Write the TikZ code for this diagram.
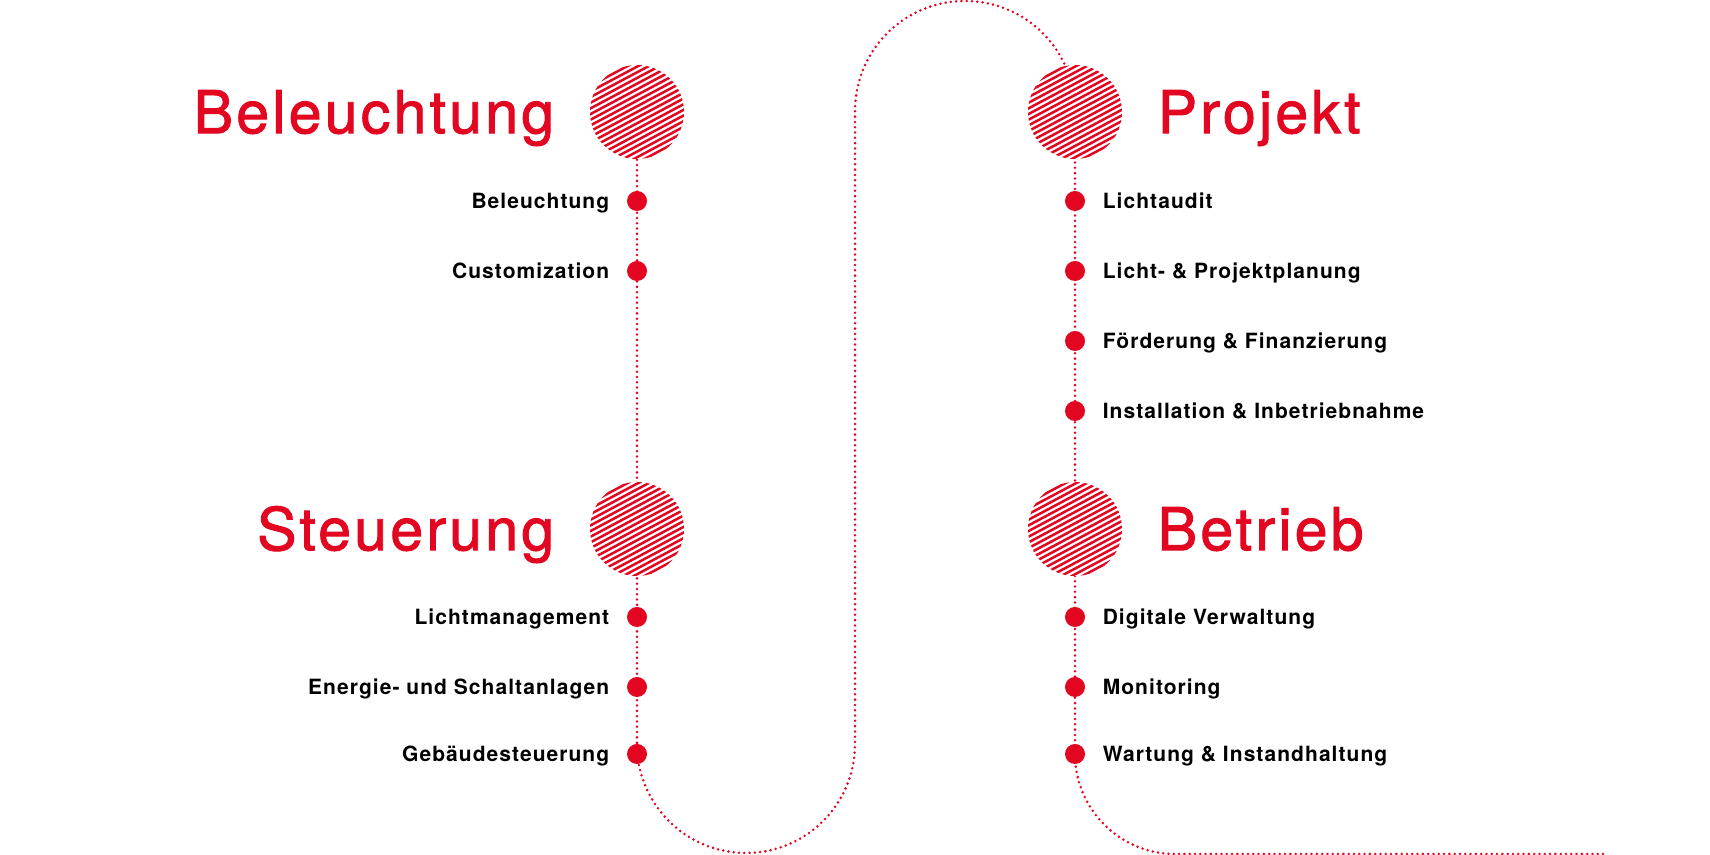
\documentclass[tikz,border=0pt]{standalone}
\usepackage{fontspec}
\setmainfont{TeX Gyre Heros}
\newfontfamily\headfont[LetterSpace=5.5,FakeBold=1.6]{TeX Gyre Heros}
\newfontfamily\itemfont[LetterSpace=5]{TeX Gyre Heros}
\usepackage{tikz}
\usetikzlibrary{positioning,backgrounds}
\definecolor{signal}{RGB}{227,6,33}

\tikzset{
    route/.style={draw=signal, line width=1.4pt, line cap=round, dash pattern=on 0pt off 2.65pt},
    hub/.style={circle, minimum size=47pt, inner sep=0pt, fill=white,
        path picture={
            \foreach \k in {-10,...,10}
                \draw[signal, line width=1.25pt] (path picture bounding box.center)
                    ++(118:{\k*2.5pt}) ++(28:-26pt) -- ++(28:52pt);}},
    stop/.style={circle, fill=signal, minimum size=10pt, inner sep=0pt},
    head/.style={text=signal, font=\headfont\fontsize{29.5}{29.5}\selectfont, inner sep=0pt, text height=21.2pt, text depth=0pt},
    item/.style={font=\itemfont\bfseries\fontsize{10.5}{10.5}\selectfont, inner sep=0pt, text height=7.5pt, text depth=0pt},
}

\begin{document}
\begin{tikzpicture}[x=0.5pt, y=0.5pt]
    \useasboundingbox (0,0) rectangle (1710,855);

    %% left column
    \node[hub] (beleuchtung) at (637,743) {};
    \node[head, left=17.5pt of beleuchtung] (tBeleuchtung) {Beleuchtung};
    \node[stop] (b1) at (637,654) {};
    \node[stop] (b2) at (637,584) {};
    \node[item, left=8.5pt of b1] (lb1) {Beleuchtung};
    \node[item, left=8.5pt of b2] (lb2) {Customization};

    \node[hub] (steuerung) at (637,326) {};
    \node[head, left=17.5pt of steuerung] (tSteuerung) {Steuerung};
    \node[stop] (s1) at (637,238) {};
    \node[stop] (s2) at (637,168) {};
    \node[stop] (s3) at (637,101) {};
    \node[item, left=8.5pt of s1] (ls1) {Lichtmanagement};
    \node[item, left=8.5pt of s2] (ls2) {Energie- und Schaltanlagen};
    \node[item, left=8.5pt of s3] (ls3) {Gebäudesteuerung};

    %% right column
    \node[hub] (projekt) at (1075,743) {};
    \node[head, right=17.5pt of projekt] (tProjekt) {Projekt};
    \node[stop] (p1) at (1075,654) {};
    \node[stop] (p2) at (1075,584) {};
    \node[stop] (p3) at (1075,514) {};
    \node[stop] (p4) at (1075,444) {};
    \node[item, right=8.5pt of p1] (lp1) {Lichtaudit};
    \node[item, right=8.5pt of p2] (lp2) {Licht- \& Projektplanung};
    \node[item, right=8.5pt of p3] (lp3) {Förderung \& Finanzierung};
    \node[item, right=8.5pt of p4] (lp4) {Installation \& Inbetriebnahme};

    \node[hub] (betrieb) at (1075,326) {};
    \node[head, right=17.5pt of betrieb] (tBetrieb) {Betrieb};
    \node[stop] (r1) at (1075,238) {};
    \node[stop] (r2) at (1075,168) {};
    \node[stop] (r3) at (1075,101) {};
    \node[item, right=8.5pt of r1] (lr1) {Digitale Verwaltung};
    \node[item, right=8.5pt of r2] (lr2) {Monitoring};
    \node[item, right=8.5pt of r3] (lr3) {Wartung \& Instandhaltung};

    %% the dotted route behind everything
    \coordinate (loopL) at (637,111);
    \coordinate (loopM) at (855,744);
    \coordinate (tail) at (1604,1);
    \begin{scope}[on background layer]
        \draw[route] (beleuchtung.center) -- (steuerung.center) -- (s3.center) -- (loopL)
            arc[start angle=180, end angle=360, radius=54.5pt] -- (loopM)
            arc[start angle=180, end angle=0, radius=55pt] -- (projekt.center)
            -- (betrieb.center) -- (r3.center)
            arc[start angle=180, end angle=270, radius=50pt] -- (tail);
    \end{scope}
\end{tikzpicture}
\end{document}
